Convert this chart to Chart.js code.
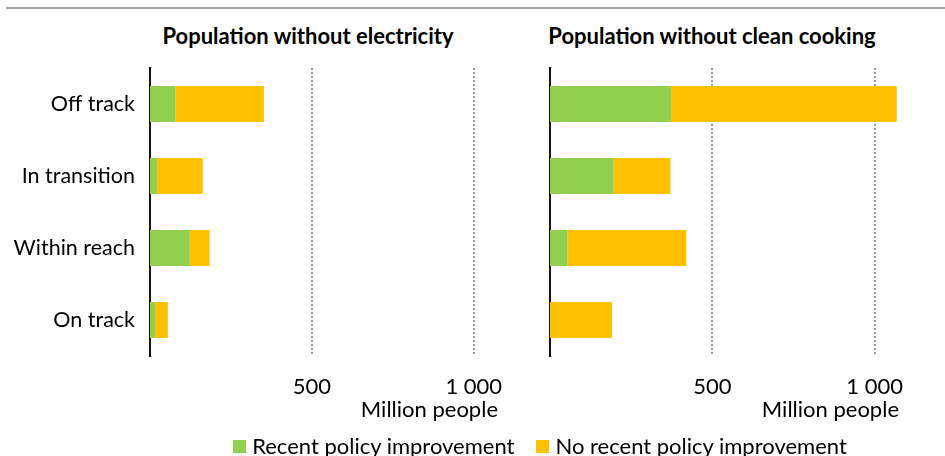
<!DOCTYPE html>
<html lang="en">
<head>
    <meta charset="UTF-8">
    <title>Population without electricity and clean cooking</title>
    <script src="https://cdn.jsdelivr.net/npm/chart.js"></script>
    <style>
        body {
            margin: 0;
            width: 945px;
            height: 456px;
            overflow: hidden;
            background: #fff;
            font-family: Lato, "Open Sans", sans-serif;
            position: relative;
        }
        .topline {
            position: absolute;
            left: 6px;
            right: 0;
            top: 7px;
            height: 2px;
            background: #a6a6a6;
        }
        .title {
            position: absolute;
            top: 23px;
            width: 400px;
            text-align: center;
            font-weight: bold;
            font-size: 22px;
            line-height: 26px;
            color: #000;
        }
        .legend {
            position: absolute;
            left: 0;
            width: 1080px;
            top: 433px;
            display: flex;
            justify-content: center;
            font-size: 22px;
            line-height: 26px;
            color: #000;
        }
        .legend span.item {
            display: flex;
            align-items: center;
            margin: 0 11px;
        }
        .legend span.box {
            width: 13px;
            height: 13px;
            margin-right: 6px;
            display: inline-block;
        }
        canvas {
            position: absolute;
            top: 0;
        }
    </style>
</head>
<body>
    <div class="topline"></div>
    <div class="title" style="left:108px">Population without electricity</div>
    <div class="title" style="left:512px">Population without clean cooking</div>

    <canvas id="elec-chart" width="545" height="456" style="left:0"></canvas>
    <canvas id="cook-chart" width="400" height="456" style="left:545px"></canvas>

    <div class="legend" id="legend"></div>

    <script>
        // categories and values (million people)
        const categories = ['Off track', 'In transition', 'Within reach', 'On track'];
        const elecRecent = [79, 22, 123, 16];
        const elecNoRecent = [273, 141, 61, 39];
        const cookRecent = [373, 196, 54, 0];
        const cookNoRecent = [695, 175, 366, 191];
        const xTickValues = [500, 1000];
        const seriesLabels = ['Recent policy improvement', 'No recent policy improvement'];
        const seriesColors = ['#92D050', '#FFC000'];

        function fmt(v) {
            return String(v).replace(/\B(?=(\d{3})+(?!\d))/g, ' ');
        }

        function makeChart(id, recent, noRecent, showLabels, yWidth, padRight) {
            const ctx = document.getElementById(id).getContext('2d');
            return new Chart(ctx, {
                type: 'bar',
                data: {
                    labels: categories,
                    datasets: [
                        { label: seriesLabels[0], data: recent, backgroundColor: seriesColors[0] },
                        { label: seriesLabels[1], data: noRecent, backgroundColor: seriesColors[1] }
                    ]
                },
                options: {
                    indexAxis: 'y',
                    responsive: false,
                    animation: false,
                    devicePixelRatio: 1,
                    categoryPercentage: 1,
                    barPercentage: 0.5,
                    layout: { padding: { top: 68, right: padRight, bottom: 0, left: 0 } },
                    plugins: {
                        legend: { display: false },
                        title: { display: false },
                        tooltip: { enabled: false }
                    },
                    scales: {
                        x: {
                            stacked: true,
                            min: 0,
                            max: 1075,
                            afterBuildTicks: function(scale) {
                                scale.ticks = xTickValues.map(function(v) { return { value: v }; });
                            },
                            afterFit: function(scale) { scale.height = 100; },
                            border: { display: false, dash: [2, 2] },
                            grid: {
                                drawTicks: false,
                                color: '#999999',
                                lineWidth: 2
                            },
                            ticks: {
                                padding: 18,
                                color: '#000',
                                font: { family: 'Lato', size: 22 },
                                callback: function(v) { return fmt(v); }
                            },
                            title: {
                                display: true,
                                text: 'Million people',
                                align: 'end',
                                color: '#000',
                                font: { family: 'Lato', size: 22 },
                                padding: { top: 0, bottom: 33 }
                            }
                        },
                        y: {
                            stacked: true,
                            afterFit: function(scale) { scale.width = yWidth; },
                            border: { display: true, color: '#111', width: 2 },
                            grid: { display: false, drawTicks: false },
                            ticks: {
                                display: showLabels,
                                padding: 15,
                                color: '#000',
                                font: { family: 'Lato', size: 21.5 }
                            }
                        }
                    }
                }
            });
        }

        makeChart('elec-chart', elecRecent, elecNoRecent, true, 150, 47);
        makeChart('cook-chart', cookRecent, cookNoRecent, false, 5, 46);

        // legend
        const legend = document.getElementById('legend');
        seriesLabels.forEach(function(label, i) {
            const item = document.createElement('span');
            item.className = 'item';
            const box = document.createElement('span');
            box.className = 'box';
            box.style.background = seriesColors[i];
            item.appendChild(box);
            item.appendChild(document.createTextNode(label));
            legend.appendChild(item);
        });
    </script>
</body>
</html>
